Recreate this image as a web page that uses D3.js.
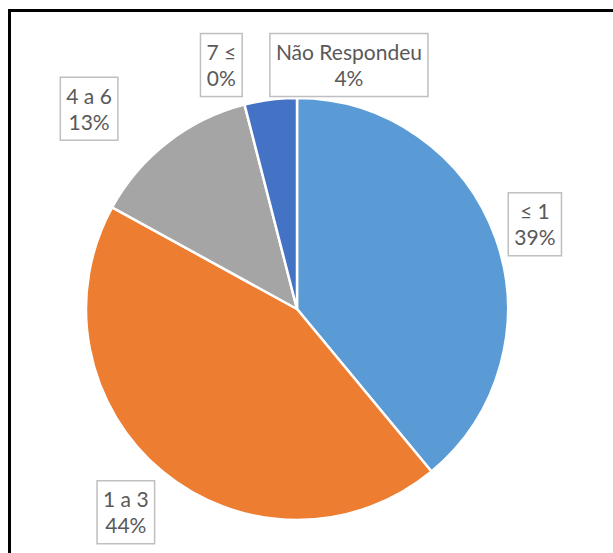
<!DOCTYPE html>
<html>
<head>
<meta charset="utf-8">
<script src="https://cdn.jsdelivr.net/npm/d3@7"></script>
<style>
  html, body { margin: 0; padding: 0; background: #fff; }
  svg { display: block; }
</style>
</head>
<body>
<svg id="chart" width="613" height="553"></svg>
<script>
// Share of respondents by category
const categories = ["≤ 1", "1 a 3", "4 a 6", "7 ≤", "Não Respondeu"];
const values = [39, 44, 13, 0, 4];
const colors = ["#5B9BD5", "#ED7D31", "#A5A5A5", "#FFC000", "#4472C4"];

// Label nudges (px) away from the default outside-end position
const labelNudge = [[-3, 2], [-8, 6], [-51, 2], [-12, 4], [84, 10]];

const svg = d3.select("#chart");

// chart area frame
svg.append("rect")
  .attr("x", 9.5).attr("y", 10.5)
  .attr("width", 700).attr("height", 700)
  .attr("fill", "#fff")
  .attr("stroke", "#000")
  .attr("stroke-width", 3);

const cx = 297, cy = 309, r = 211;
const g = svg.append("g").attr("transform", `translate(${cx},${cy})`);

const data = categories.map((c, i) => ({ name: c, value: values[i], color: colors[i], i }));

const pie = d3.pie().value(d => d.value).sort(null);
const arcs = pie(data);

const arc = d3.arc().innerRadius(0).outerRadius(r);
const labelArc = d3.arc().innerRadius(r + 45).outerRadius(r + 45);

g.selectAll("path.slice")
  .data(arcs.filter(a => a.data.value > 0))
  .join("path")
  .attr("class", "slice")
  .attr("d", arc)
  .attr("fill", d => d.data.color)
  .attr("stroke", "#fff")
  .attr("stroke-width", 2.5)
  .attr("stroke-linejoin", "round");

// data labels: category name and percentage in a bordered box
const fontSize = 21, lineH = 26, padX = 6, padY = 5;
const total = d3.sum(values);
const fmt = v => Math.round(v / total * 100) + "%";

const labels = g.selectAll("g.label")
  .data(arcs)
  .join("g")
  .attr("class", "label")
  .attr("transform", d => {
    const [x, y] = labelArc.centroid(d);
    const [nx, ny] = labelNudge[d.data.i];
    return `translate(${x + nx},${y + ny})`;
  });

labels.append("rect")
  .attr("fill", "#fff")
  .attr("stroke", "#BFBFBF")
  .attr("stroke-width", 1.5);

const txt = labels.append("text")
  .attr("text-anchor", "middle")
  .attr("font-family", "Lato, 'Open Sans', sans-serif")
  .attr("font-size", fontSize)
  .attr("fill", "#595959");

txt.append("tspan").attr("x", 0).attr("y", -lineH / 2 + 8).text(d => d.data.name);
txt.append("tspan").attr("x", 0).attr("y", lineH / 2 + 8).text(d => fmt(d.data.value));

labels.each(function() {
  const spans = Array.from(this.querySelectorAll("tspan"));
  const w = Math.max(...spans.map(s => s.getComputedTextLength()));
  const bw = w + padX * 2, bh = lineH * 2 + padY * 2 + 1;
  d3.select(this).select("rect")
    .attr("x", -bw / 2).attr("y", -bh / 2)
    .attr("width", bw).attr("height", bh);
});
</script>
</body>
</html>
